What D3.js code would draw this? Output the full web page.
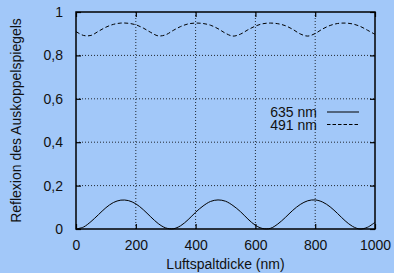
<!DOCTYPE html>
<html>
<head>
<meta charset="utf-8"/>
<script src="https://cdn.jsdelivr.net/npm/d3@7"></script>
<style>
  body { margin: 0; background: #a2c8f9; }
  svg { display: block; font-family: "Liberation Sans", Arial, sans-serif; }
</style>
</head>
<body>
<script>
// Luftspaltdicke in nm, Schritt 25
var thickness = d3.range(0, 1001, 25);
// 635 nm (durchgezogen)
var refl635 = [0, 0.009, 0.034, 0.066, 0.098, 0.122, 0.133, 0.131, 0.116, 0.089, 0.056, 0.025, 0.005,
  0.001, 0.015, 0.043, 0.077, 0.106, 0.127, 0.134, 0.128, 0.108, 0.080, 0.046, 0.017, 0.002,
  0.003, 0.023, 0.053, 0.086, 0.113, 0.130, 0.134, 0.124, 0.102, 0.071, 0.038, 0.012, 0.000, 0.008, 0.031];
// 491 nm (gestrichelt)
var refl491 = [0.910, 0.892, 0.892, 0.911, 0.930, 0.943, 0.949, 0.948, 0.941, 0.926, 0.906, 0.890, 0.895,
  0.915, 0.933, 0.945, 0.949, 0.947, 0.939, 0.923, 0.902, 0.889, 0.898, 0.918, 0.935, 0.946,
  0.949, 0.946, 0.937, 0.920, 0.899, 0.889, 0.901, 0.922, 0.938, 0.947, 0.949, 0.945, 0.934, 0.916, 0.897];
var xTicks = [0, 200, 400, 600, 800, 1000];
var yTicks = [0, 0.2, 0.4, 0.6, 0.8, 1];
var series = [
  {name: "635 nm", values: refl635, dash: null},
  {name: "491 nm", values: refl491, dash: "4,2.5"}
];

var w = 394, h = 273;
var pLeft = 76, pRight = 375, pTop = 12, pBottom = 229;

var svg = d3.select("body").append("svg").attr("width", w).attr("height", h);

var x = d3.scaleLinear().domain([0, 1000]).range([pLeft, pRight]);
var y = d3.scaleLinear().domain([0, 1]).range([pBottom, pTop]);
var fmt = function(d) { return d3.format("")(d).replace(".", ","); };

// grid
var grid = svg.append("g").attr("stroke", "#000").attr("stroke-width", 0.8).attr("stroke-dasharray", "1,2");
grid.selectAll(".gx").data(xTicks.slice(1, -1)).enter().append("line")
  .attr("x1", x).attr("x2", x).attr("y1", pTop).attr("y2", pBottom);
grid.selectAll(".gy").data(yTicks.slice(1, -1)).enter().append("line")
  .attr("y1", y).attr("y2", y).attr("x1", pLeft).attr("x2", pRight);

// axes with inward ticks on all four sides
function styleAxis(g) {
  g.select(".domain").remove();
  g.attr("font-family", null);
  g.selectAll(".tick line").attr("stroke", "#000").attr("stroke-width", 1.2);
  g.selectAll("text").attr("font-size", 14).attr("fill", "#111");
}
svg.append("g").attr("transform", "translate(0," + pBottom + ")")
  .call(d3.axisBottom(x).tickValues(xTicks).tickSize(-5).tickPadding(11).tickFormat(d3.format("")))
  .call(styleAxis);
svg.append("g").attr("transform", "translate(0," + pTop + ")")
  .call(d3.axisTop(x).tickValues(xTicks).tickSize(-5).tickFormat(""))
  .call(styleAxis);
svg.append("g").attr("transform", "translate(" + pLeft + ",0)")
  .call(d3.axisLeft(y).tickValues(yTicks).tickSize(-5).tickPadding(13).tickFormat(fmt))
  .call(styleAxis);
svg.append("g").attr("transform", "translate(" + pRight + ",0)")
  .call(d3.axisRight(y).tickValues(yTicks).tickSize(-5).tickFormat(""))
  .call(styleAxis);

// frame
svg.append("rect").attr("x", pLeft).attr("y", pTop).attr("width", pRight - pLeft).attr("height", pBottom - pTop)
  .attr("fill", "none").attr("stroke", "#000").attr("stroke-width", 1.5);

// curves
var line = d3.line()
  .x(function(d, i) { return x(thickness[i]); })
  .y(function(d) { return y(d); })
  .curve(d3.curveCatmullRom);
svg.selectAll(".curve").data(series).enter().append("path")
  .attr("d", function(s) { return line(s.values); })
  .attr("fill", "none").attr("stroke", "#000").attr("stroke-width", 1)
  .attr("stroke-dasharray", function(s) { return s.dash; });

// legend
var leg = svg.selectAll(".leg").data(series).enter().append("g")
  .attr("transform", function(s, i) { return "translate(0," + (112 + i * 12.5) + ")"; });
leg.append("text").attr("x", 317).attr("y", 5).attr("text-anchor", "end")
  .attr("font-size", 14).attr("fill", "#111").text(function(s) { return s.name; });
leg.append("line").attr("x1", 327).attr("x2", 359).attr("y1", 0).attr("y2", 0)
  .attr("stroke", "#000").attr("stroke-width", 1)
  .attr("stroke-dasharray", function(s) { return s.dash ? "3.5,2" : null; });

// axis titles
svg.append("text").attr("x", (pLeft + pRight) / 2).attr("y", 269).attr("text-anchor", "middle")
  .attr("font-size", 14).attr("fill", "#111").text("Luftspaltdicke (nm)");
svg.append("text").attr("transform", "translate(21," + ((pTop + pBottom) / 2) + ") rotate(-90)")
  .attr("text-anchor", "middle").attr("font-size", 14).attr("fill", "#111")
  .text("Reflexion des Auskoppelspiegels");
</script>
</body>
</html>
